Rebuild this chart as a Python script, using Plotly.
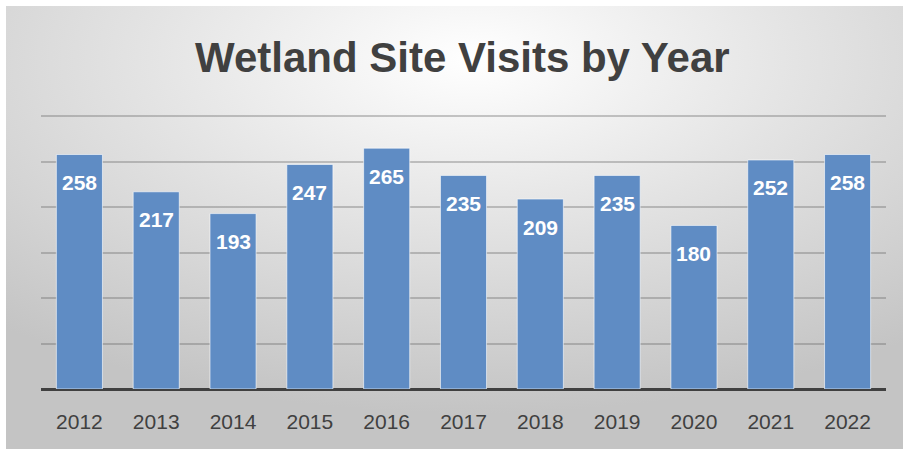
import base64
import plotly.graph_objects as go

years = ["2012", "2013", "2014", "2015", "2016", "2017", "2018", "2019", "2020", "2021", "2022"]
visits = [258, 217, 193, 247, 265, 235, 209, 235, 180, 252, 258]
title_text = "Wetland Site Visits by Year"

W, H = 903, 449
L, R, T, B = 41, 17, 115, 60
pw, ph = W - L - R, H - T - B

svg = (
    "<svg xmlns='http://www.w3.org/2000/svg' width='897' height='443' preserveAspectRatio='none'>"
    "<defs><radialGradient id='g' cx='0.52' cy='0.12' r='0.8' fx='0.52' fy='0.12'>"
    "<stop offset='0' stop-color='#ffffff'/>"
    "<stop offset='0.45' stop-color='#e4e4e4'/>"
    "<stop offset='1' stop-color='#c4c4c4'/>"
    "</radialGradient></defs>"
    "<rect x='0' y='0' width='897' height='443' fill='url(#g)'/></svg>"
)
src = "data:image/svg+xml;base64," + base64.b64encode(svg.encode()).decode()

fig = go.Figure()
fig.add_trace(go.Bar(
    x=years, y=visits,
    marker=dict(color="#5f8cc4", line=dict(color="rgba(255,255,255,0.6)", width=1)),
    hoverinfo="skip",
))

for i, v in enumerate(visits):
    fig.add_annotation(x=i, y=v, text="<b>" + str(v) + "</b>", showarrow=False, yanchor="middle",
                       yshift=-28, font=dict(family="Liberation Sans, Arial", size=21, color="white"))

fig.add_layout_image(dict(
    source=src, xref="paper", yref="paper",
    x=(6 - L) / pw, y=(H - B - 6) / ph, sizex=(W - 6) / pw, sizey=(H - 6) / ph,
    xanchor="left", yanchor="top", sizing="stretch", layer="below",
))

fig.update_layout(
    width=W, height=H,
    margin=dict(l=L, r=R, t=T, b=B),
    paper_bgcolor="white", plot_bgcolor="rgba(0,0,0,0)",
    bargap=0.4, showlegend=False,
    title=dict(text="<b>" + title_text + "</b>", x=0.512, xanchor="center", y=1 - 57 / H, yanchor="middle",
               font=dict(family="Liberation Sans, Arial", size=42, color="#404040")),
    xaxis=dict(type="category", range=[-0.5, len(years) - 0.5], showgrid=False, showline=False, ticks="",
               tickfont=dict(family="Liberation Sans, Arial", size=21, color="#404040"),
               ticklabelstandoff=18),
    yaxis=dict(range=[0, 301.5], showticklabels=False, showgrid=True, gridcolor="rgba(100,100,100,0.35)", gridwidth=2,
               dtick=50, zeroline=True, zerolinecolor="#404040", zerolinewidth=3, showline=False),
)

fig.write_html("out.html", config={"displayModeBar": False},
               post_script="document.body.style.margin='0';")
